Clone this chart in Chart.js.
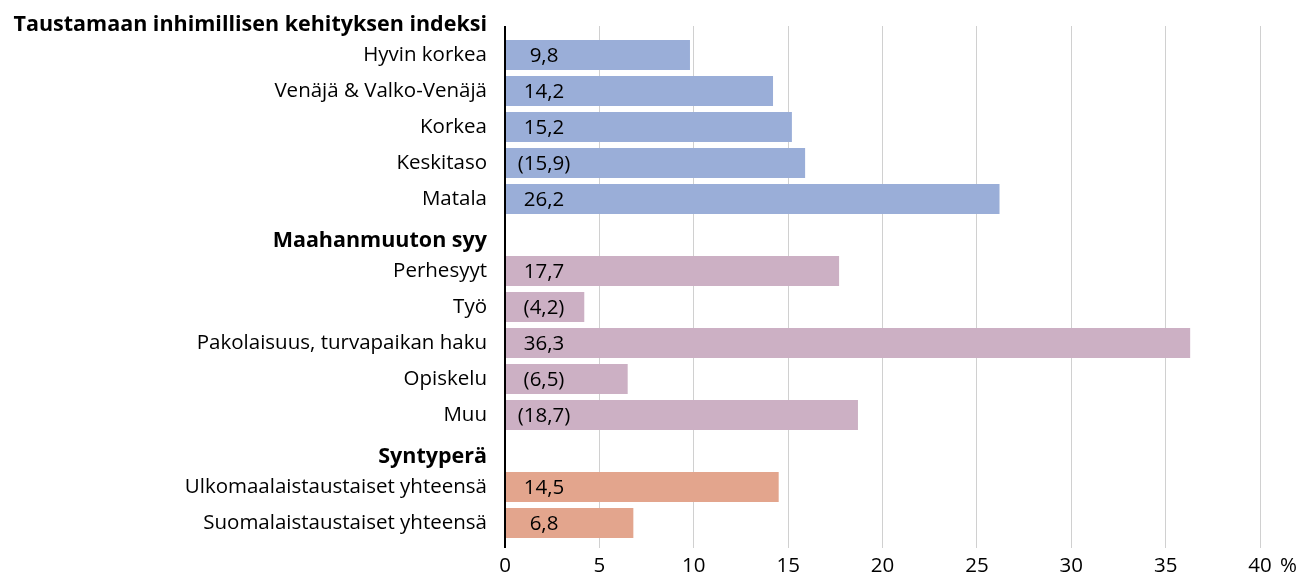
<!DOCTYPE html>
<html>
<head>
<meta charset="utf-8">
<script src="https://cdn.jsdelivr.net/npm/chart.js@4/dist/chart.umd.min.js"></script>
<style>
  html, body { margin: 0; padding: 0; background: #fff; }
  #wrap { width: 1312px; height: 574px; }
</style>
</head>
<body>
<div id="wrap"><canvas id="chart" width="1312" height="574"></canvas></div>
<script>
// Rivit (otsikkorivit mukana, niillä ei arvoa)
const categories = [
    "Taustamaan inhimillisen kehityksen indeksi",
    "Hyvin korkea",
    "Venäjä & Valko-Venäjä",
    "Korkea",
    "Keskitaso",
    "Matala",
    "Maahanmuuton syy",
    "Perhesyyt",
    "Työ",
    "Pakolaisuus, turvapaikan haku",
    "Opiskelu",
    "Muu",
    "Syntyperä",
    "Ulkomaalaistaustaiset yhteensä",
    "Suomalaistaustaiset yhteensä"
];
const isHeader = [true, false, false, false, false, false, true, false, false, false, false, false, true, false, false];
const values = [null, 9.8, 14.2, 15.2, 15.9, 26.2, null, 17.7, 4.2, 36.3, 6.5, 18.7, null, 14.5, 6.8];
// Sulkeissa näytettävät (epävarmat) arvot
const bracketed = [false, false, false, false, true, false, false, false, true, false, true, true, false, false, false];
const groups = ["", "hdi", "hdi", "hdi", "hdi", "hdi", "", "syy", "syy", "syy", "syy", "syy", "", "tausta", "tausta"];
const groupColors = { hdi: "#9aaed8", syy: "#ccb0c4", tausta: "#e3a58d", "": "rgba(0,0,0,0)" };
const xTicks = [0, 5, 10, 15, 20, 25, 30, 35, 40];

const FONT = "'Open Sans'";
const FSIZE = 20.5;
const HSIZE = 21.5;

// arvotekstit palkin alkuun
const valueLabels = {
    id: "valueLabels",
    afterDatasetsDraw(chart) {
        const ctx = chart.ctx;
        const meta = chart.getDatasetMeta(0);
        ctx.save();
        ctx.font = FSIZE + "px " + FONT;
        ctx.fillStyle = "#000";
        ctx.textAlign = "center";
        ctx.textBaseline = "middle";
        meta.data.forEach((bar, i) => {
            if (values[i] == null) return;
            let txt = values[i].toFixed(1).replace(".", ",");
            if (bracketed[i]) txt = "(" + txt + ")";
            ctx.fillText(txt, bar.base + 38, bar.y + 1);
        });
        ctx.restore();
    }
};

// ylin otsikkorivi ilman ruudukkoa
const topCut = {
    id: "topCut",
    beforeDatasetsDraw(chart) {
        const a = chart.chartArea;
        const yTop = chart.scales.y.getPixelForValue(0) + 7;
        const ctx = chart.ctx;
        ctx.save();
        ctx.fillStyle = "#fff";
        ctx.fillRect(a.left - 2, 0, a.right - a.left + 4, yTop);
        ctx.restore();
    }
};

// "%" viimeisen tikin perään
const percentSign = {
    id: "percentSign",
    afterDraw(chart) {
        const x = chart.scales.x;
        const ctx = chart.ctx;
        ctx.save();
        ctx.font = FSIZE + "px " + FONT;
        ctx.fillStyle = "#000";
        ctx.textAlign = "left";
        ctx.textBaseline = "middle";
        ctx.fillText("%", x.getPixelForValue(xTicks[xTicks.length - 1]) + 20, x.top + 7 + 6 + FSIZE * 0.6);
        ctx.restore();
    }
};

new Chart(document.getElementById("chart"), {
    type: "bar",
    data: {
        labels: categories,
        datasets: [{
            data: values,
            backgroundColor: groups.map(g => groupColors[g]),
            categoryPercentage: 1,
            barPercentage: 0.83
        }]
    },
    options: {
        indexAxis: "y",
        responsive: false,
        animation: false,
        layout: { padding: { top: 1, right: 52, left: 0, bottom: 0 } },
        plugins: {
            legend: { display: false },
            tooltip: { enabled: false }
        },
        scales: {
            x: {
                min: 0,
                max: 40,
                afterBuildTicks: s => { s.ticks = xTicks.map(v => ({ value: v })); },
                afterFit: s => { s.height = 33; s.paddingLeft = 0; s.paddingRight = 0; },
                ticks: {
                    color: "#000",
                    padding: 6,
                    maxRotation: 0,
                    font: { family: FONT, size: FSIZE }
                },
                grid: {
                    color: c => c.tick && c.tick.value === 0 ? "#000" : "#d0d0d0",
                    lineWidth: c => c.tick && c.tick.value === 0 ? 2 : 1,
                    tickLength: 7
                },
                border: { display: false }
            },
            y: {
                afterFit: s => { s.width = 505; s.paddingTop = 0; s.paddingBottom = 0; },
                ticks: {
                    color: "#000",
                    padding: 18,
                    autoSkip: false,
                    // otsikkorivit hieman alemmas (tyhjä rivi edelle)
                    callback: (v, i) => isHeader[i] ? ["", categories[i]] : categories[i],
                    font: c => isHeader[c.index]
                        ? { family: FONT, size: HSIZE, weight: "bold", lineHeight: 0.55 }
                        : { family: FONT, size: FSIZE, weight: "normal" }
                },
                grid: { display: false, drawTicks: false },
                border: { display: true, color: "#000", width: 2 }
            }
        }
    },
    plugins: [valueLabels, topCut, percentSign]
});
</script>
</body>
</html>
